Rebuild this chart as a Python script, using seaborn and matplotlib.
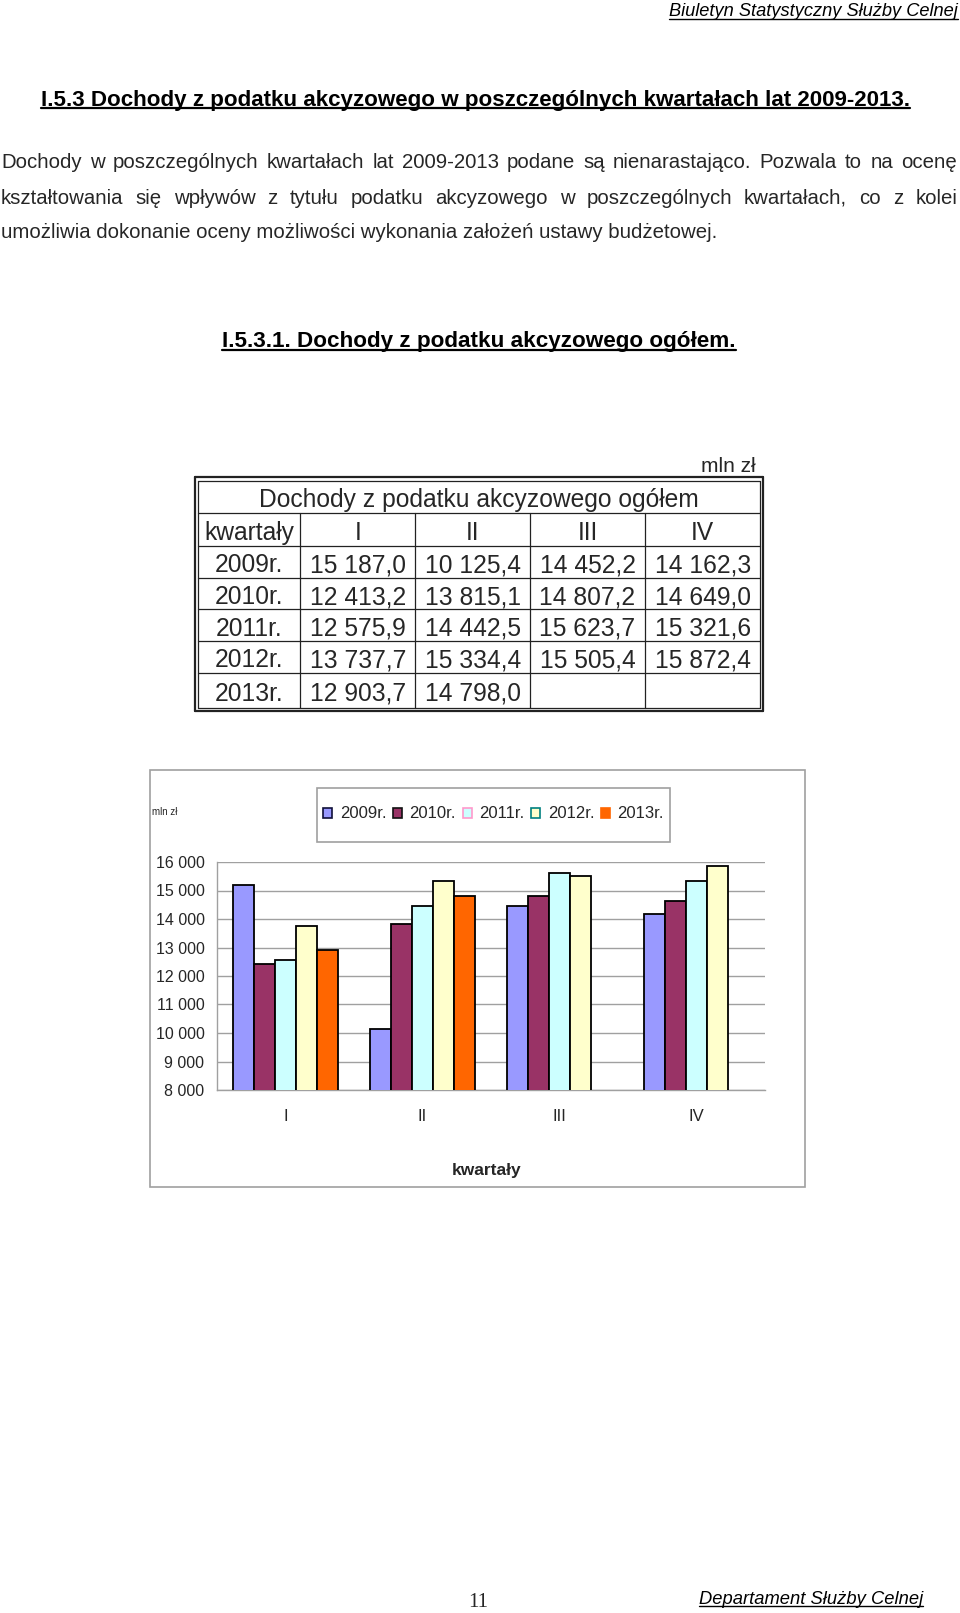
import numpy as np
import pandas as pd
import matplotlib
matplotlib.use("Agg")
import matplotlib.pyplot as plt
import seaborn as sns
from matplotlib.patches import Rectangle, Patch
from matplotlib.lines import Line2D
from matplotlib.ticker import FuncFormatter

# ---------------- data ----------------
years = ["2009r.", "2010r.", "2011r.", "2012r.", "2013r."]
quarters = ["I", "II", "III", "IV"]
v2009 = [15187.0, 10125.4, 14452.2, 14162.3]
v2010 = [12413.2, 13815.1, 14807.2, 14649.0]
v2011 = [12575.9, 14442.5, 15623.7, 15321.6]
v2012 = [13737.7, 15334.4, 15505.4, 15872.4]
v2013 = [12903.7, 14798.0, None, None]
series = [v2009, v2010, v2011, v2012, v2013]
yticks = [8000, 9000, 10000, 11000, 12000, 13000, 14000, 15000, 16000]

header_text = "Biuletyn Statystyczny Służby Celnej"
title_text = "I.5.3 Dochody z podatku akcyzowego w poszczególnych kwartałach lat 2009-2013."
para_lines = [
    "Dochody w poszczególnych kwartałach lat 2009-2013 podane są nienarastająco. Pozwala to na ocenę",
    "kształtowania się wpływów z tytułu podatku akcyzowego w poszczególnych kwartałach, co z kolei",
    "umożliwia dokonanie oceny możliwości wykonania założeń ustawy budżetowej.",
]
subtitle_text = "I.5.3.1. Dochody z podatku akcyzowego ogółem."
unit_text = "mln zł"
table_title = "Dochody z podatku akcyzowego ogółem"
table_corner = "kwartały"
footer_text = "Departament Służby Celnej"
page_no = "11"

bar_colors = ["#9999FF", "#993366", "#CCFFFF", "#FFFFCC", "#FF6600"]
edge_colors = ["#10103a", "#111111", "#FF99CC", "#008080", "#FF6600"]
GRAY = "#a0a0a0"

# ---------------- figure ----------------
W, H = 960, 1613
sns.set_theme(style="white")
plt.rcParams["font.family"] = ["Liberation Sans", "DejaVu Sans"]
fig = plt.figure(figsize=(W / 100, H / 100), dpi=100)
fig.patch.set_facecolor("white")


def fx(x):
    return x / W


def fy(y):
    return 1 - y / H


renderer = fig.canvas.get_renderer()


def width_px(t):
    return t.get_window_extent(renderer=renderer).width


def fit(t, target):
    w = width_px(t)
    t.set_fontsize(t.get_fontsize() * target / w)


underlined = []


def utext(x, y, s, ha, size, target=None, **kw):
    t = fig.text(fx(x), fy(y), s, ha=ha, va="baseline", fontsize=size, color="black", **kw)
    if target:
        fit(t, target)
    underlined.append(t)
    return t


# header
utext(958, 16.5, header_text, "right", 13, target=288, style="italic")
# section title
utext(41, 106, title_text, "left", 15, target=876, weight="bold")

# justified paragraph
para_size = 14.7
base = [168.5, 203.5, 238.5]
for i, line in enumerate(para_lines):
    if i < 2:
        words = line.split(" ")
        ts = [fig.text(0, fy(base[i]), w_, fontsize=para_size, va="baseline", ha="left") for w_ in words]
        ws = [width_px(t) for t in ts]
        gap = (957 - 1 - sum(ws)) / (len(ws) - 1)
        xpos = 1
        for t, w_ in zip(ts, ws):
            t.set_x(fx(xpos))
            xpos += w_ + gap
    else:
        fig.text(fx(1), fy(base[i]), line, fontsize=para_size, va="baseline", ha="left")

# subtitle
utext(222, 347.5, subtitle_text, "left", 14, target=515, weight="bold")

# ---------------- table ----------------
fig.text(fx(756), fy(467), unit_text, ha="right", va="center", fontsize=15)


def hline(x0, x1, y, lw=1.0, c="#222222"):
    fig.add_artist(Line2D([fx(x0), fx(x1)], [fy(y), fy(y)], transform=fig.transFigure, lw=lw, color=c))


def vline(x, y0, y1, lw=1.0, c="#222222"):
    fig.add_artist(Line2D([fx(x), fx(x)], [fy(y0), fy(y1)], transform=fig.transFigure, lw=lw, color=c))


# double outer border
ox0, oy0, ox1, oy1 = 194.5, 476.7, 763.3, 710.7
ix0, iy0, ix1, iy1 = 197.5, 480.5, 760.3, 707.5
for (a, b, c_, d, lw) in [(ox0, oy0, ox1, oy1, 1.6), (ix0, iy0, ix1, iy1, 0.9)]:
    hline(a, c_, b, lw)
    hline(a, c_, d, lw)
    vline(a, b, d, lw)
    vline(c_, b, d, lw)

row_lines = [513.3, 546.0, 577.7, 609.4, 641.0, 672.7]
col_lines = [300.3, 415.2, 530.1, 645.0]
for y in row_lines:
    hline(ix0, ix1, y, 0.9)
for x in col_lines:
    vline(x, row_lines[0], iy1, 0.9)

tsize = 17.7
col_edges = [ix0] + col_lines + [ix1]
row_edges = [iy0] + row_lines + [iy1]
cc = [(col_edges[i] + col_edges[i + 1]) / 2 for i in range(5)]
rc = [(row_edges[i] + row_edges[i + 1]) / 2 for i in range(7)]


def ttext(x, y, s):
    fig.text(fx(x), fy(y + 3.5), s, ha="center", va="center", fontsize=tsize)


def fmt_pl(v):
    s = f"{v:,.1f}"
    return s.replace(",", " ").replace(".", ",")


ttext((ix0 + ix1) / 2, rc[0], table_title)
ttext(cc[0], rc[1], table_corner)
for j, q in enumerate(quarters):
    ttext(cc[j + 1], rc[1], q)
for i, (yr, vals) in enumerate(zip(years, series)):
    ttext(cc[0], rc[2 + i], yr)
    for j, v in enumerate(vals):
        if v is not None:
            ttext(cc[j + 1], rc[2 + i], fmt_pl(v))

# ---------------- chart ----------------
fig.add_artist(Rectangle((fx(150), fy(1187)), (805 - 150) / W, (1187 - 770) / H,
                         transform=fig.transFigure, fill=False, edgecolor=GRAY, lw=1.2))
fig.text(fx(152), fy(812), unit_text, ha="left", va="center", fontsize=7)

rows = []
for yr, vals in zip(years, series):
    for q, v in zip(quarters, vals):
        if v is not None:
            rows.append({"kwartał": q, "rok": yr, "wartość": v})
df = pd.DataFrame(rows)

ax = fig.add_axes([fx(217), fy(1090), 548 / W, 228 / H])
sns.barplot(data=df, x="kwartał", y="wartość", hue="rok", order=quarters, hue_order=years,
            palette=dict(zip(years, bar_colors)), saturation=1, width=0.766,
            errorbar=None, legend=False, ax=ax, zorder=3)
edge_map = dict(zip(years, edge_colors))
for cont in ax.containers:
    lab = cont.get_label()
    for p in cont:
        p.set_edgecolor(edge_map.get(lab, "black"))
        p.set_linewidth(1.3)

ax.set_ylim(8000, 16000)
ax.set_xlim(-0.5, 3.5)
ax.set_yticks(yticks)
ax.yaxis.set_major_formatter(FuncFormatter(lambda v, p: f"{int(v):,}".replace(",", " ")))
ax.set_xticks([-0.5, 0.5, 1.5, 2.5, 3.5])
ax.set_xticklabels([])
ax.set_xticks(range(len(quarters)), minor=True)
ax.set_xticklabels(quarters, minor=True)
ax.tick_params(axis="x", which="minor", length=0, pad=14, labelsize=12)
ax.tick_params(axis="x", which="major", length=5, color=GRAY, width=1, direction="out")
ax.tick_params(axis="y", length=5, color=GRAY, width=1, direction="out", labelsize=11.5, pad=4)
ax.set_xlabel("")
ax.set_ylabel("")
ax.yaxis.grid(True, color=GRAY, lw=1)
ax.set_axisbelow(True)
for s in ["top", "right"]:
    ax.spines[s].set_visible(False)
for s in ["left", "bottom"]:
    ax.spines[s].set_color(GRAY)
    ax.spines[s].set_linewidth(1)
ax.set_facecolor("white")

fig.text(fx(487), fy(1170), table_corner, ha="center", va="center", fontsize=12.5, weight="bold")

# legend
fig.add_artist(Rectangle((fx(317), fy(842)), (670 - 317) / W, (842 - 788) / H,
                         transform=fig.transFigure, fill=False, edgecolor=GRAY, lw=1.2))
handles = [Patch(facecolor=c, edgecolor=e if e != "#FF6600" else c, lw=1.2)
           for c, e in zip(bar_colors, edge_colors)]
fig.legend(handles, years, loc="center left", bbox_to_anchor=(fx(323), fy(814)), ncol=5,
           frameon=False, fontsize=12, handlelength=0.55, handleheight=0.55,
           handletextpad=0.45, columnspacing=0.4, borderaxespad=0, borderpad=0)

# footer
fig.text(fx(478), fy(1607), page_no, ha="center", va="baseline", fontsize=15,
         family=["Liberation Serif", "DejaVu Serif"])
utext(699, 1603.5, footer_text, "left", 13, target=223, style="italic")

# underlines
for t in underlined:
    bb = t.get_window_extent(renderer=renderer)
    x0, x1 = bb.x0, bb.x1
    ybase = t.get_position()[1] * H
    lw = 1.6 if t.get_fontweight() in ("bold", 700) else 1.0
    ypix = ybase - 2.2
    fig.add_artist(Line2D([x0 / W, x1 / W], [ypix / H, ypix / H], transform=fig.transFigure,
                          lw=lw, color="black"))

fig.savefig("out.png", dpi=100, facecolor="white")
